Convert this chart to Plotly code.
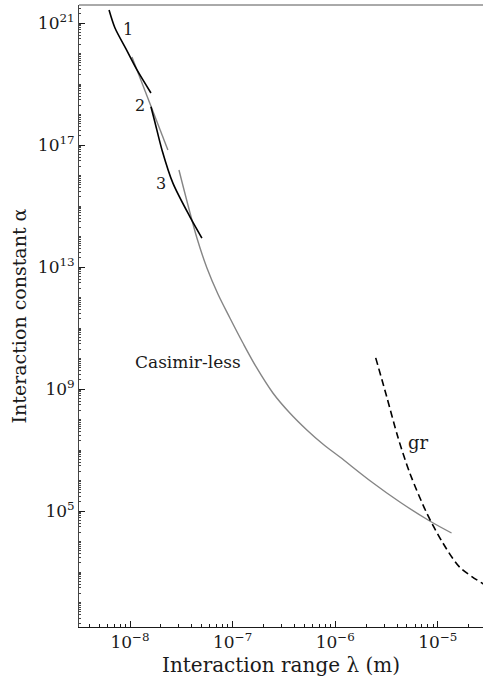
import math
import plotly.graph_objects as go

# ---- data ----
curve1_lambda = [6.25e-9, 7.14e-9, 9.14e-9, 1.17e-8, 1.6e-8]
curve1_alpha = [2.67e21, 6.85e20, 1.41e20, 2.88e19, 5.07e18]

curve2_lambda = [1.6e-8, 1.75e-8, 2.05e-8, 2.62e-8, 3.84e-8, 5.02e-8]
curve2_alpha = [1.8e18, 5.6e17, 6.9e16, 5.6e15, 4.4e14, 8.9e13]

gray2_lambda = [1.045e-8, 1.57e-8, 2.34e-8]
gray2_alpha = [7.67e19, 2.4e18, 6.9e16]

casimirless_lambda = [3.00e-8, 3.67e-8, 4.49e-8, 5.62e-8, 7.19e-8, 9.41e-8, 1.26e-7, 1.72e-7,
                      2.47e-7, 3.61e-7, 5.29e-7, 7.57e-7, 1.11e-6, 2.27e-6, 4.26e-6, 8.34e-6,
                      1.36e-5]
casimirless_alpha = [1.51e16, 1.08e15, 8.93e13, 9.27e12, 1.30e12, 2.13e11, 3.22e10, 4.89e9,
                     7.40e8, 1.63e8, 4.53e7, 1.57e7, 5.89e6, 8.93e5, 1.97e5, 4.70e4,
                     1.90e4]

gr_lambda = [2.48e-6, 3.18e-6, 4.07e-6, 5.32e-6, 7.8e-6, 1.12e-5, 1.63e-5, 2.67e-5, 3.58e-5]
gr_alpha = [1.05e10, 5.5e8, 2.7e7, 1.78e6, 8.5e4, 8.9e3, 1.45e3, 4.4e2, 2.6e2]

labels_text = ["1", "2", "3", "Casimir-less", "gr"]
labels_lambda = [9.57e-9, 1.25e-8, 2.0e-8, 3.67e-8, 6.5e-6]
labels_alpha = [5.9e20, 2.0e18, 5.6e15, 7.7e9, 1.7e7]

x_major = [1e-8, 1e-7, 1e-6, 1e-5]
x_major_text = ["10<sup>−8</sup>", "10<sup>−7</sup>", "10<sup>−6</sup>", "10<sup>−5</sup>"]
y_major = [1e5, 1e9, 1e13, 1e17, 1e21]
y_major_text = ["10<sup>5</sup>", "10<sup>9</sup>", "10<sup>13</sup>", "10<sup>17</sup>", "10<sup>21</sup>"]

FONT = "DejaVu Serif"
GRAY = "#858585"
INK = "#1a1a1a"

fig = go.Figure()
fig.add_trace(go.Scatter(x=gray2_lambda, y=gray2_alpha, mode="lines",
                         line=dict(color=GRAY, width=1.4)))
fig.add_trace(go.Scatter(x=casimirless_lambda, y=casimirless_alpha, mode="lines",
                         line=dict(color=GRAY, width=1.4, shape="spline", smoothing=1.0)))
fig.add_trace(go.Scatter(x=curve1_lambda, y=curve1_alpha, mode="lines",
                         line=dict(color="black", width=1.6, shape="spline", smoothing=0.8)))
fig.add_trace(go.Scatter(x=curve2_lambda, y=curve2_alpha, mode="lines",
                         line=dict(color="black", width=1.6, shape="spline", smoothing=0.8)))
fig.add_trace(go.Scatter(x=gr_lambda, y=gr_alpha, mode="lines",
                         line=dict(color="black", width=1.6, dash="7px,4px",
                                   shape="spline", smoothing=0.8)))

sizes = [16, 16, 16, 17, 18]
for t, lx, ly, s in zip(labels_text, labels_lambda, labels_alpha, sizes):
    fig.add_annotation(x=math.log10(lx), y=math.log10(ly), text=t, showarrow=False,
                       font=dict(family=FONT, size=s, color=INK))

# minor tick positions
x_minor = [k * 10.0 ** e for e in range(-9, -4) for k in range(2, 10)]
y_minor = []
for e in range(1, 22):
    for k in range(1, 10):
        v = k * 10.0 ** e
        if k == 1 and v in y_major:
            continue
        y_minor.append(v)

fig.update_layout(
    width=483, height=689,
    margin=dict(l=79, r=0, t=5, b=62),
    paper_bgcolor="white", plot_bgcolor="white",
    showlegend=False,
    font=dict(family=FONT, color=INK),
    xaxis=dict(type="log", range=[-8.497, -4.56], automargin=False,
               tickmode="array", tickvals=x_major, ticktext=x_major_text,
               ticks="inside", ticklen=6, tickwidth=1, tickcolor=INK,
               showgrid=False, zeroline=False,
               showline=True, linecolor=INK, linewidth=1,
               tickfont=dict(family=FONT, size=17, color=INK),
               title=dict(text="Interaction range λ (m)", font=dict(family=FONT, size=20, color=INK),
                          standoff=6),
               minor=dict(tickmode="array", tickvals=x_minor, ticks="inside", ticklen=3,
                          tickcolor=INK, showgrid=False)),
    yaxis=dict(type="log", range=[1.197, 21.59], automargin=False,
               tickmode="array", tickvals=y_major, ticktext=y_major_text,
               ticks="inside", ticklen=6, tickwidth=1, tickcolor=INK,
               showgrid=False, zeroline=False,
               showline=True, linecolor="#444", linewidth=1,
               tickfont=dict(family=FONT, size=17, color=INK),
               title=dict(text="Interaction constant α", font=dict(family=FONT, size=19, color=INK),
                          standoff=6),
               minor=dict(tickmode="array", tickvals=y_minor, ticks="inside", ticklen=2,
                          tickcolor="#444", showgrid=False)),
)
fig.add_shape(type="line", xref="paper", yref="paper", x0=0, x1=1, y0=1, y1=1,
              line=dict(color="#555", width=1))

fig.write_html("out.html", config={"displayModeBar": False},
               post_script="document.body.style.margin='0px';")
